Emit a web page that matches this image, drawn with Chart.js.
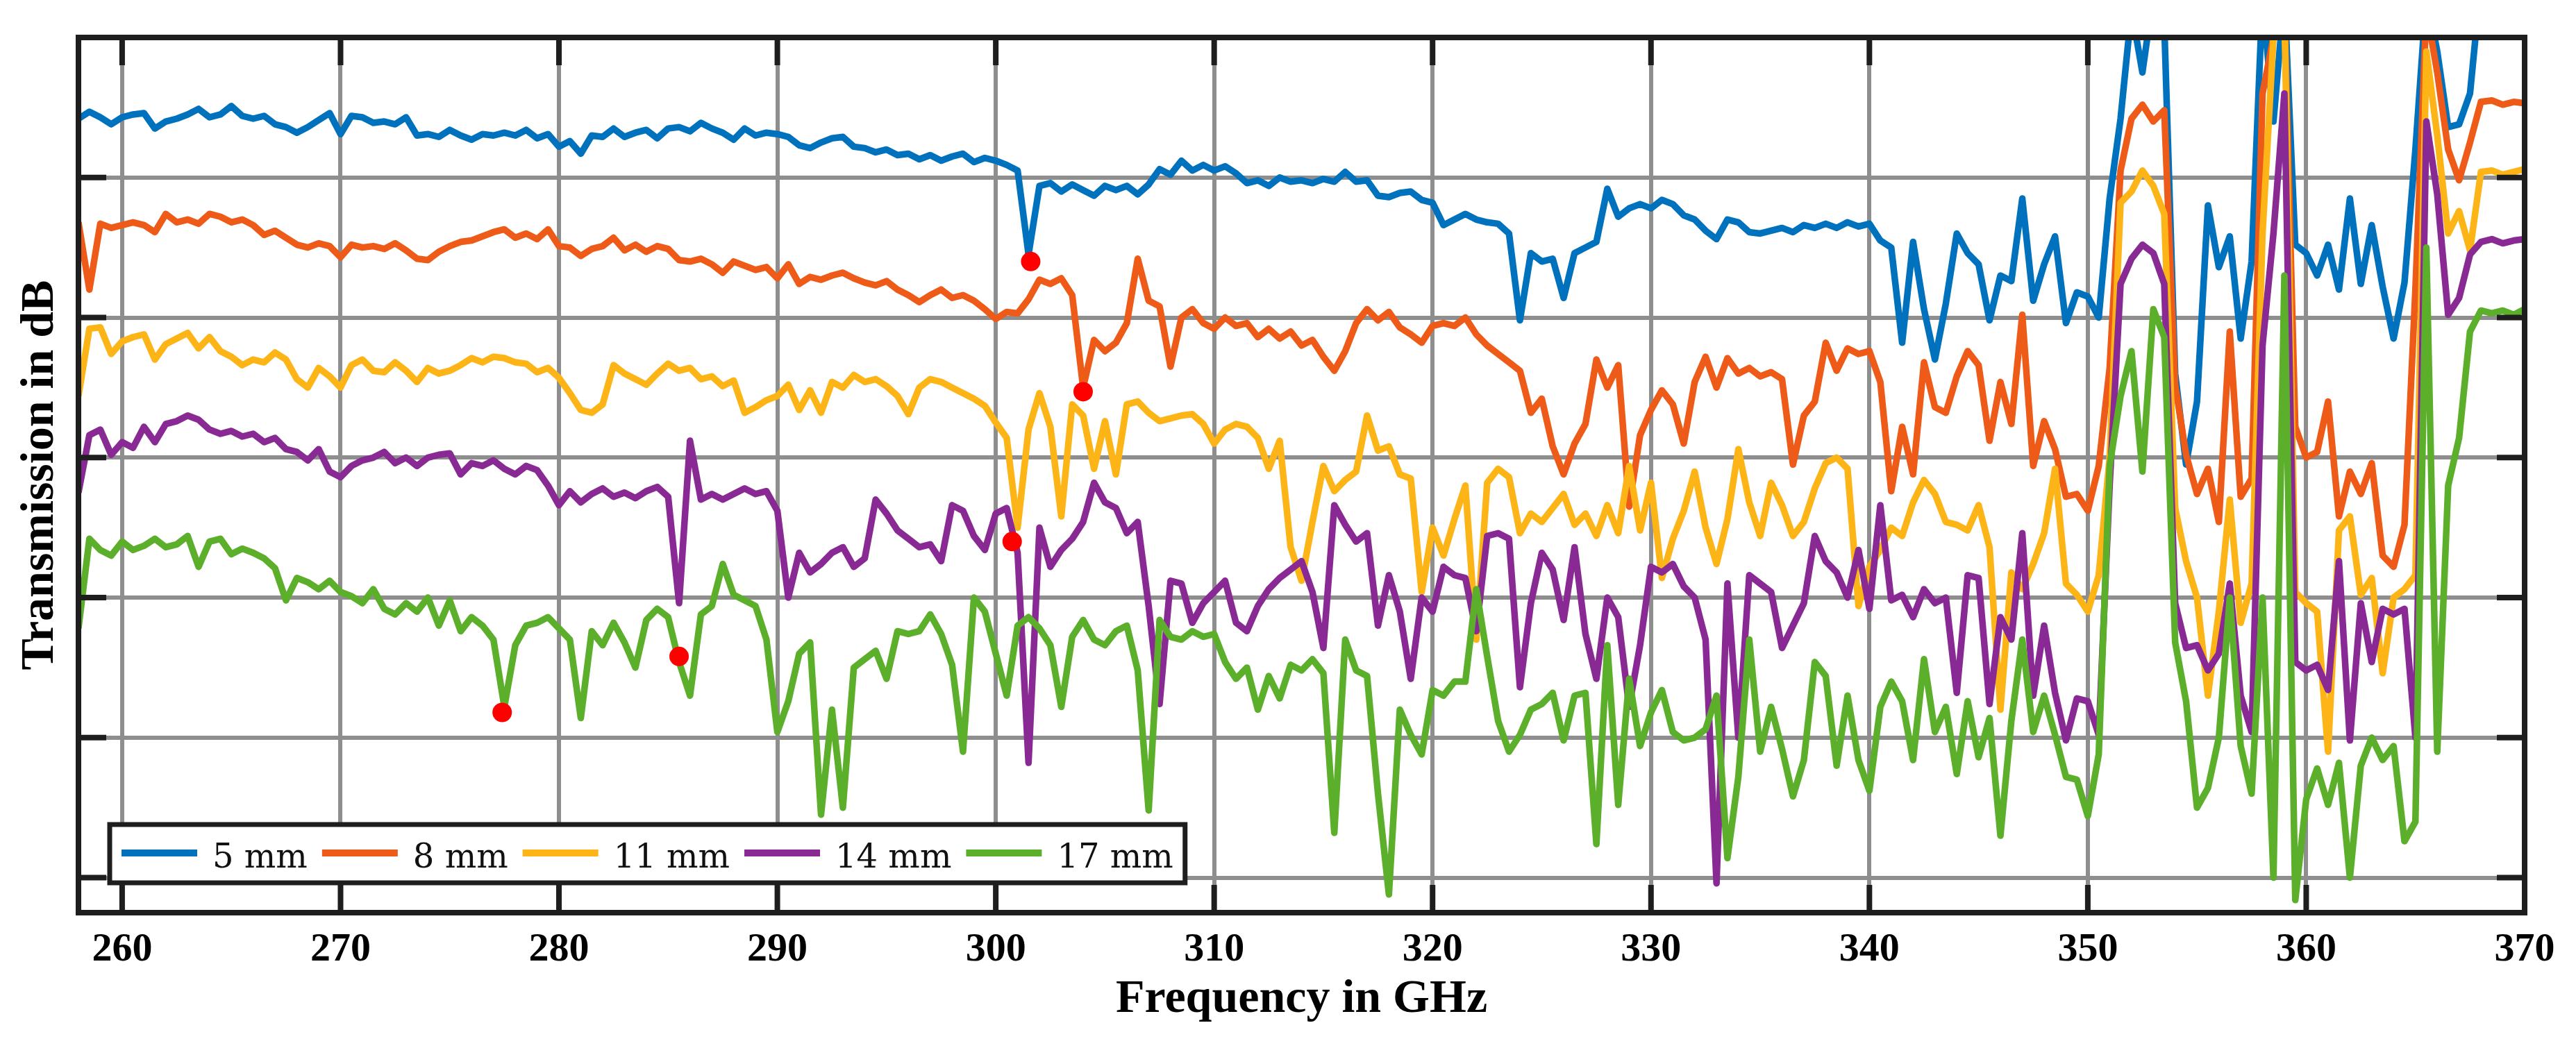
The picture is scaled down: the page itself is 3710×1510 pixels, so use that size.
<!DOCTYPE html>
<html>
<head>
<meta charset="utf-8">
<script src="https://cdn.jsdelivr.net/npm/chart.js@4.4.1/dist/chart.umd.min.js"></script>
<style>
  html, body { margin: 0; padding: 0; background: #fff; }
</style>
</head>
<body>
<canvas id="chart" width="3710" height="1510"></canvas>
<script>
// transmission traces, one value every 0.5 GHz from 258 to 370 GHz (arbitrary dB offset, no y labels)
const freqStart = 258;
const freqStep = 0.5;

const blue5 = [
  4.2, 4.7, 4.3, 3.8, 4.3, 4.5, 4.6, 3.5, 4.0, 4.2, 4.5, 4.9, 4.3, 4.5, 5.1, 4.4, 4.2, 4.4, 3.8, 3.6,
  3.2, 3.6, 4.1, 4.6, 3.1, 4.4, 4.3, 3.9, 4.0, 3.8, 4.3, 3.0, 3.1, 2.9, 3.4, 3.0, 2.7, 3.1, 3.0, 3.2,
  3.0, 3.4, 2.8, 3.1, 2.2, 2.6, 1.7, 3.0, 2.9, 3.5, 2.9, 3.2, 3.4, 2.8, 3.5, 3.6, 3.3, 3.9, 3.5, 3.2,
  2.7, 3.5, 3.0, 3.2, 3.1, 2.9, 2.3, 2.1, 2.5, 2.8, 2.9, 2.2, 2.1, 1.8, 2.0, 1.6, 1.7, 1.3, 1.6, 1.2,
  1.5, 1.7, 1.1, 1.4, 1.2, 0.9, 0.5, -5.5, -0.6, -0.4, -1.0, -0.5, -0.9, -1.3, -0.6, -0.9, -0.6, -1.2, -0.5, 0.6,
  0.2, 1.2, 0.5, 0.9, 0.5, 0.8, 0.3, -0.4, -0.2, -0.6, 0.0, -0.3, -0.2, -0.4, -0.1, -0.3, 0.4, -0.3, -0.2, -1.3,
  -1.4, -1.1, -1.0, -1.6, -1.8, -3.4, -3.0, -2.6, -3.0, -3.2, -3.3, -4.0, -10.2, -5.4, -6.0, -5.8, -8.6, -5.4, -5.0, -4.6,
  -0.8, -2.8, -2.2, -1.9, -2.2, -1.6, -1.9, -2.7, -3.0, -3.8, -4.4, -3.0, -3.2, -3.9, -4.0, -3.8, -3.6, -3.9, -3.4, -3.6,
  -3.3, -3.6, -3.2, -3.5, -3.3, -4.5, -5.0, -11.8, -4.6, -9.4, -13.0, -9.0, -4.0, -5.4, -6.2, -10.2, -7.0, -7.4, -1.5, -8.8,
  -6.2, -4.2, -10.4, -8.2, -8.5, -10.0, -1.5, 4.2, 12.0, 7.5, 13.0, 11.0, -14.0, -20.5, -16.0, -2.0, -6.4, -4.2, -11.5, -6.0,
  13.0, 4.0, 13.0, -4.8, -5.4, -7.0, -4.8, -8.0, -1.5, -7.6, -3.4, -7.8, -11.5, -7.5, 2.0, 13.0, 9.0, 3.6, 3.8, 6.0,
  14.0, 14.0, 14.0, 14.0, 14.0
];

const orange8 = [
  -3.2, -8.0, -3.3, -3.6, -3.4, -3.2, -3.4, -3.9, -2.6, -3.2, -3.0, -3.3, -2.6, -2.8, -3.2, -3.0, -3.4, -4.1, -3.8, -4.3,
  -4.8, -5.0, -4.7, -4.9, -5.7, -4.8, -5.0, -4.9, -5.1, -4.7, -5.2, -5.8, -5.9, -5.3, -4.9, -4.6, -4.5, -4.2, -3.9, -3.7,
  -4.3, -4.0, -4.4, -3.7, -4.9, -5.0, -5.6, -5.1, -4.9, -4.3, -5.2, -4.8, -5.3, -4.9, -5.1, -5.9, -6.0, -5.8, -6.2, -6.8,
  -6.0, -6.3, -6.6, -6.4, -7.2, -6.2, -7.6, -7.1, -7.3, -7.0, -6.8, -7.2, -7.5, -7.7, -7.4, -8.0, -8.4, -8.9, -8.4, -8.0,
  -8.6, -8.4, -8.8, -9.4, -10.1, -9.6, -9.7, -8.7, -7.3, -7.6, -7.2, -8.4, -15.0, -11.6, -12.4, -11.8, -10.4, -5.8, -8.8, -9.2,
  -13.5, -10.0, -9.4, -10.4, -10.8, -10.0, -10.6, -10.4, -11.4, -10.8, -11.5, -11.0, -12.0, -11.6, -12.8, -13.8, -12.4, -10.4, -9.4, -10.2,
  -9.6, -10.7, -11.2, -11.8, -10.6, -10.4, -10.6, -10.0, -11.2, -12.0, -12.6, -13.2, -13.8, -16.8, -15.8, -19.2, -21.2, -19.0, -17.6, -13.0,
  -15.0, -13.4, -23.5, -18.4, -16.6, -15.2, -16.2, -19.0, -14.6, -12.8, -15.0, -12.9, -14.0, -13.6, -14.2, -13.9, -14.4, -20.5, -17.0, -16.0,
  -11.8, -13.8, -12.2, -12.6, -12.4, -14.6, -22.4, -17.8, -21.2, -13.2, -16.4, -16.8, -14.2, -12.4, -13.4, -18.8, -14.6, -17.6, -9.8, -20.6,
  -17.4, -19.4, -22.8, -22.6, -23.8, -20.6, -13.6, 0.5, 4.2, 5.2, 4.0, 4.8, -14.8, -19.8, -22.6, -20.8, -24.6, -11.0, -22.8, -21.5,
  6.0, 10.0, 12.0, -17.8, -20.0, -19.6, -16.0, -24.2, -21.0, -22.6, -20.4, -27.0, -27.8, -24.8, -8.0, 12.0, 7.5, 2.0, -0.2, 2.5,
  5.4, 5.5, 5.2, 5.4, 5.3
];

const yellow11 = [
  -15.6, -10.8, -10.7, -12.6, -11.7, -11.4, -11.2, -13.0, -11.9, -11.5, -11.1, -12.2, -11.4, -12.4, -12.8, -13.4, -13.0, -13.2, -12.5, -13.0,
  -14.4, -15.0, -13.6, -14.2, -15.0, -13.4, -13.0, -13.8, -13.9, -13.2, -13.8, -14.6, -13.6, -14.0, -13.8, -13.4, -12.9, -13.2, -12.8, -12.9,
  -13.2, -13.3, -13.9, -13.6, -14.3, -15.4, -16.6, -16.8, -16.2, -13.4, -14.0, -14.4, -14.8, -14.0, -13.3, -13.8, -13.6, -14.4, -14.2, -14.9,
  -14.5, -16.8, -16.4, -15.9, -15.6, -14.8, -16.6, -15.2, -16.8, -14.6, -15.0, -14.1, -14.6, -14.4, -14.9, -15.6, -16.9, -15.0, -14.4, -14.6,
  -15.0, -15.4, -15.8, -16.3, -17.5, -18.6, -25.0, -18.0, -15.4, -17.8, -24.2, -16.2, -17.0, -20.8, -17.4, -21.2, -16.2, -16.0, -16.8, -17.4,
  -17.2, -17.0, -16.9, -17.6, -19.0, -18.0, -17.6, -17.8, -18.6, -20.8, -18.8, -26.4, -28.8, -24.6, -20.6, -22.4, -21.6, -21.0, -17.0, -19.5,
  -19.2, -21.2, -21.5, -29.6, -25.0, -27.0, -24.4, -22.0, -33.0, -21.8, -20.8, -21.4, -25.4, -24.0, -24.6, -23.6, -22.6, -24.8, -24.0, -25.6,
  -23.4, -25.4, -20.6, -25.2, -21.8, -28.6, -25.8, -23.8, -21.0, -25.0, -27.6, -24.4, -19.4, -23.2, -25.6, -21.8, -23.4, -25.6, -24.6, -22.2,
  -20.4, -20.0, -20.8, -30.6, -27.8, -26.6, -25.0, -25.6, -23.2, -21.6, -22.6, -24.6, -24.8, -25.2, -23.4, -26.4, -38.0, -28.2, -29.4, -27.6,
  -25.4, -20.8, -29.0, -29.8, -31.0, -28.4, -20.0, -1.8, -1.0, 0.5, -0.6, -2.6, -23.6, -27.4, -30.0, -37.0, -31.0, -23.0, -31.8, -29.0,
  -4.0, 10.0, 12.0, -29.6, -30.4, -31.0, -41.0, -25.2, -24.2, -29.8, -28.6, -35.4, -30.0, -29.4, -28.4, 9.0, 3.0, -4.0, -2.4, -5.2,
  0.4, 0.5, 0.2, 0.4, 0.6
];

const purple14 = [
  -22.5, -18.4, -18.0, -19.8, -18.9, -19.3, -17.8, -18.9, -17.6, -17.4, -17.0, -17.3, -18.0, -18.3, -18.1, -18.5, -18.3, -18.9, -18.6, -19.4,
  -19.6, -20.2, -19.4, -21.0, -21.4, -20.6, -20.2, -20.0, -19.6, -20.4, -20.0, -20.6, -20.0, -19.8, -19.7, -21.2, -20.4, -20.6, -20.2, -20.8,
  -21.2, -20.6, -20.9, -22.0, -23.4, -22.4, -23.2, -22.6, -22.2, -22.8, -22.5, -22.9, -22.4, -22.1, -22.8, -30.4, -18.8, -23.0, -22.6, -23.0,
  -22.6, -22.2, -22.6, -22.4, -23.8, -30.0, -26.8, -28.2, -27.6, -26.8, -26.4, -27.8, -27.2, -23.0, -24.0, -25.2, -25.8, -26.4, -26.2, -27.4,
  -23.4, -23.8, -25.6, -26.6, -24.0, -23.6, -26.8, -41.8, -25.0, -27.8, -26.6, -25.8, -24.6, -21.8, -23.2, -23.6, -25.4, -24.6, -30.6, -37.6,
  -28.8, -29.0, -31.8, -30.4, -29.6, -28.8, -31.8, -32.4, -30.6, -29.4, -28.6, -28.0, -27.4, -29.6, -33.6, -23.4, -24.8, -26.0, -25.4, -32.0,
  -28.4, -31.0, -35.8, -30.0, -31.0, -27.8, -28.4, -28.6, -32.4, -25.6, -25.4, -25.8, -36.4, -30.4, -26.8, -28.0, -31.6, -26.4, -32.6, -35.8,
  -30.0, -31.4, -37.8, -33.4, -27.8, -28.2, -27.6, -29.2, -30.0, -33.0, -50.4, -29.0, -40.0, -28.4, -29.0, -29.6, -33.6, -32.0, -30.4, -25.6,
  -27.4, -28.2, -30.0, -26.6, -30.8, -23.4, -30.2, -29.8, -31.4, -29.4, -30.4, -30.0, -36.8, -28.4, -28.6, -37.6, -31.4, -33.0, -25.4, -37.0,
  -32.0, -36.8, -40.2, -37.2, -37.4, -39.8, -22.0, -7.6, -5.8, -4.8, -5.4, -7.6, -30.4, -33.6, -33.4, -35.2, -34.0, -29.0, -37.0, -39.6,
  -12.0, -4.0, 6.0, -34.6, -35.2, -34.8, -36.6, -27.4, -40.2, -30.4, -34.6, -30.8, -31.2, -30.8, -40.0, 4.0, -1.2, -9.8, -8.6, -5.5,
  -4.6, -4.4, -4.7, -4.5, -4.4
];

const green17 = [
  -32.2, -25.8, -26.6, -27.0, -26.0, -26.6, -26.3, -25.8, -26.4, -26.2, -25.6, -27.8, -26.0, -25.8, -26.9, -26.5, -26.8, -27.2, -27.9, -30.2,
  -28.6, -28.9, -29.4, -28.8, -29.6, -29.9, -30.4, -29.4, -30.8, -31.2, -30.4, -31.0, -30.0, -32.0, -30.2, -32.4, -31.4, -32.0, -33.0, -37.8,
  -33.4, -32.0, -31.8, -31.4, -32.2, -33.0, -38.6, -32.4, -33.4, -31.8, -33.2, -35.0, -31.6, -30.8, -31.4, -34.6, -37.0, -31.2, -30.6, -27.6,
  -29.8, -30.2, -30.6, -33.0, -39.6, -37.4, -34.0, -33.2, -45.5, -38.0, -45.0, -35.0, -34.4, -33.8, -35.8, -32.4, -32.6, -32.4, -31.2, -32.6,
  -34.8, -41.0, -30.0, -31.0, -34.0, -37.0, -32.0, -31.4, -32.2, -33.4, -37.8, -32.8, -31.6, -33.0, -33.4, -32.4, -32.0, -35.2, -45.2, -31.6,
  -32.8, -33.0, -32.4, -32.8, -32.6, -34.6, -35.8, -35.0, -38.0, -35.6, -37.2, -34.8, -35.2, -34.4, -35.4, -46.8, -33.0, -35.2, -35.6, -44.0,
  -51.2, -38.0, -39.8, -41.2, -36.6, -37.0, -36.0, -36.0, -29.4, -34.2, -38.8, -41.0, -39.8, -38.0, -37.6, -36.8, -40.2, -37.0, -36.8, -47.6,
  -33.4, -44.8, -35.8, -40.6, -38.2, -36.6, -39.6, -40.2, -40.0, -39.4, -37.0, -48.6, -42.8, -33.0, -41.0, -37.8, -40.8, -44.2, -41.6, -34.6,
  -35.6, -42.0, -37.0, -41.6, -43.8, -37.8, -36.0, -37.4, -41.6, -34.4, -39.6, -37.8, -42.6, -37.4, -41.4, -38.6, -47.0, -38.8, -33.0, -39.6,
  -37.0, -39.8, -42.8, -43.0, -45.6, -41.2, -20.6, -15.6, -12.4, -21.0, -9.4, -11.4, -33.2, -37.4, -45.0, -43.6, -40.0, -30.0, -40.6, -44.0,
  -30.0, -50.0, -7.0, -51.6, -44.4, -42.2, -44.8, -41.8, -50.0, -42.0, -40.0, -41.6, -40.6, -47.4, -46.0, -5.0, -41.0, -22.0, -18.6, -11.0,
  -9.5, -9.7, -9.5, -9.8, -9.4
];

// red markers on the resonance dips
const markFreq = [301.6, 304.0, 300.75, 285.5, 277.4];
const markLevel = [-6.0, -15.3, -26.0, -34.2, -38.2];

const seriesLabels = ['5 mm', '8 mm', '11 mm', '14 mm', '17 mm'];
const seriesColors = ['#0072BD', '#EE5A17', '#FDB416', '#892A94', '#5CAF2A'];
const seriesValues = [blue5, orange8, yellow11, purple14, green17];

const freq = blue5.map((_, i) => freqStart + i * freqStep);

function toPoints(values) {
  return values.map((v, i) => ({x: freq[i], y: v}));
}

const datasets = seriesValues.map((vals, i) => ({
  label: seriesLabels[i],
  data: toPoints(vals),
  borderColor: seriesColors[i],
  backgroundColor: seriesColors[i],
  borderWidth: 9.5,
  borderJoinStyle: 'round',
  pointRadius: 0,
  tension: 0,
  order: 5 - i   // MATLAB draws later traces on top
}));

datasets.push({
  label: 'marks',
  data: markFreq.map((f, i) => ({x: f, y: markLevel[i]})),
  showLine: false,
  pointRadius: 14,
  pointBackgroundColor: '#ff0000',
  pointBorderWidth: 0,
  order: -1
});

const serif = "'Liberation Serif', 'Times New Roman', serif";

// black inward ticks plus the closed axes box
const framePlugin = {
  id: 'frame',
  afterDatasetsDraw(chart) {
    const {ctx, chartArea: a, scales} = chart;
    ctx.save();
    ctx.strokeStyle = '#1e1e1e';
    ctx.lineWidth = 8;
    ctx.beginPath();
    scales.x.ticks.forEach(t => {
      const px = scales.x.getPixelForValue(t.value);
      ctx.moveTo(px, a.top); ctx.lineTo(px, a.top + 40);
      ctx.moveTo(px, a.bottom); ctx.lineTo(px, a.bottom - 40);
    });
    scales.y.ticks.forEach(t => {
      const py = scales.y.getPixelForValue(t.value);
      ctx.moveTo(a.left, py); ctx.lineTo(a.left + 40, py);
      ctx.moveTo(a.right, py); ctx.lineTo(a.right - 40, py);
    });
    ctx.stroke();
    ctx.strokeRect(a.left, a.top, a.right - a.left, a.bottom - a.top);
    ctx.restore();
  }
};

// horizontal legend sitting inside the plot, bottom-left
const legendPlugin = {
  id: 'insideLegend',
  afterDraw(chart) {
    const ctx = chart.ctx;
    const boxX = 158, boxY = 1188, boxH = 84;
    const lineY = 1229, textY = 1250;
    ctx.save();
    ctx.font = "48px 'DejaVu Serif', serif";
    let x = 175;
    const items = [];
    chart.data.datasets.forEach(ds => {
      if (!seriesLabels.includes(ds.label)) return;
      const w = ctx.measureText(ds.label).width;
      items.push({x: x, label: ds.label, color: ds.borderColor});
      x += 109 + 22 + w + 21;
    });
    const boxW = x - 21 + 17 - boxX;
    ctx.fillStyle = '#ffffff';
    ctx.fillRect(boxX, boxY, boxW, boxH);
    ctx.lineWidth = 7;
    ctx.strokeStyle = '#1e1e1e';
    ctx.strokeRect(boxX, boxY, boxW, boxH);
    items.forEach(it => {
      ctx.strokeStyle = it.color;
      ctx.lineWidth = 10;
      ctx.beginPath();
      ctx.moveTo(it.x, lineY);
      ctx.lineTo(it.x + 109, lineY);
      ctx.stroke();
      ctx.fillStyle = '#111';
      ctx.textBaseline = 'alphabetic';
      ctx.fillText(it.label, it.x + 131, textY);
    });
    ctx.restore();
  }
};

new Chart(document.getElementById('chart'), {
  type: 'line',
  data: {datasets: datasets},
  options: {
    responsive: false,
    animation: false,
    devicePixelRatio: 1,
    events: [],
    layout: {padding: {top: 54, right: 74, bottom: 0, left: 0}},
    plugins: {
      legend: {display: false},
      tooltip: {enabled: false}
    },
    scales: {
      x: {
        type: 'linear',
        min: 258,
        max: 370,
        afterFit: s => { s.height = 195; },
        border: {display: false},
        grid: {color: '#8e8e8e', lineWidth: 6, drawTicks: false},
        ticks: {
          stepSize: 10,
          includeBounds: false,
          autoSkip: false,
          maxRotation: 0,
          padding: 19,
          color: '#000',
          font: {family: serif, size: 58, weight: 'bold'}
        },
        title: {
          display: true,
          text: 'Frequency in GHz',
          color: '#000',
          font: {family: serif, size: 68, weight: 'bold'},
          padding: {top: 0, bottom: 29}
        }
      },
      y: {
        type: 'linear',
        min: -52.5,
        max: 10,
        afterFit: s => { s.width = 113; },
        border: {display: false},
        grid: {color: '#8e8e8e', lineWidth: 6, drawTicks: false},
        ticks: {stepSize: 10, includeBounds: false, display: false},
        title: {
          display: true,
          text: 'Transmission in dB',
          color: '#000',
          font: {family: serif, size: 68, weight: 'bold'},
          padding: {top: 18, bottom: 0}
        }
      }
    }
  },
  plugins: [framePlugin, legendPlugin]
});
</script>
</body>
</html>
